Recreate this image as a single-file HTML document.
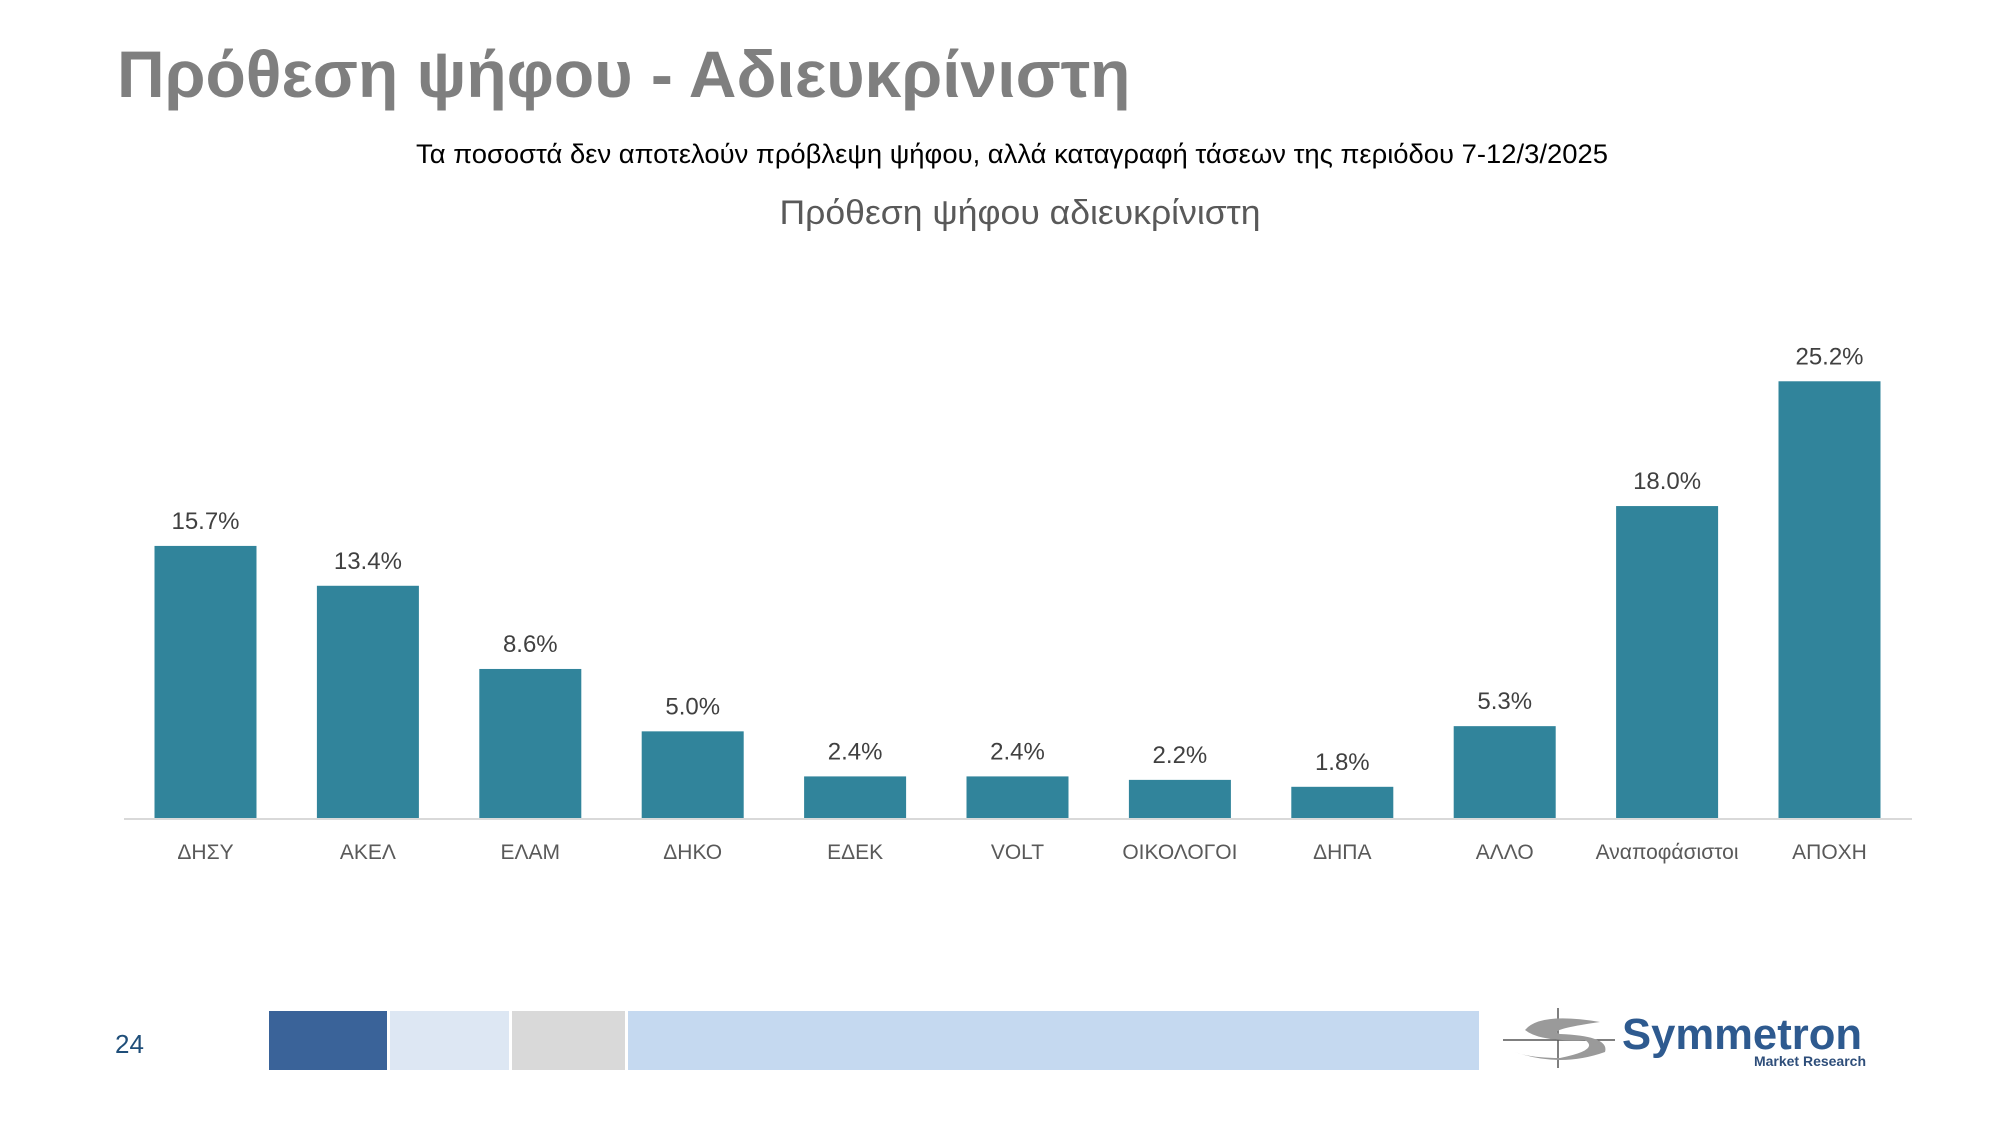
<!DOCTYPE html>
<html><head><meta charset="utf-8">
<style>
body{margin:0;background:#fff;}
svg{display:block;font-family:"Liberation Sans","DejaVu Sans",sans-serif;}
</style></head>
<body>
<svg width="2000" height="1125" viewBox="0 0 2000 1125" xmlns="http://www.w3.org/2000/svg">
<rect width="2000" height="1125" fill="#fff"/>
<text x="117" y="97" font-size="66" font-weight="bold" fill="#7f7f7f">Πρόθεση ψήφου - Αδιευκρίνιστη</text>
<text x="1012" y="163" font-size="27" text-anchor="middle" fill="#000" textLength="1192" lengthAdjust="spacingAndGlyphs">Τα ποσοστά δεν αποτελούν πρόβλεψη ψήφου, αλλά καταγραφή τάσεων της περιόδου 7-12/3/2025</text>
<text x="1020" y="224" font-size="34" text-anchor="middle" fill="#595959" textLength="481" lengthAdjust="spacingAndGlyphs">Πρόθεση ψήφου αδιευκρίνιστη</text>
<g id="chart"></g>
<line x1="124" y1="819" x2="1912" y2="819" stroke="#d9d9d9" stroke-width="2"/>
<text x="115" y="1053" font-size="26" fill="#1f4e79">24</text>
<rect x="269" y="1011" width="118" height="59" fill="#3a6399"/>
<rect x="390" y="1011" width="119" height="59" fill="#dde7f3"/>
<rect x="512" y="1011" width="113" height="59" fill="#d9d9d9"/>
<rect x="628" y="1011" width="851" height="59" fill="#c5d9f0"/>
<g>
<line x1="1503" y1="1040" x2="1615" y2="1040" stroke="#555" stroke-width="1.5"/>
<line x1="1558" y1="1008" x2="1558" y2="1068" stroke="#555" stroke-width="1.5"/>
<path d="M1600 1022 Q1540 1012 1525 1030 Q1540 1042 1585 1040 Q1600 1050 1560 1058 Q1530 1058 1515 1052 Q1560 1068 1605 1052 Q1610 1036 1560 1034 Q1545 1030 1600 1022Z" fill="#9a9a9a"/>
<text x="1622" y="1049" font-size="44" font-weight="bold" fill="#2e5a8f" textLength="240" lengthAdjust="spacingAndGlyphs">Symmetron</text>
<text x="1866" y="1066" font-size="14" font-weight="bold" fill="#2e4e7a" text-anchor="end">Market Research</text>
</g>
</svg>
<script>
const categories=["ΔΗΣΥ","ΑΚΕΛ","ΕΛΑΜ","ΔΗΚΟ","ΕΔΕΚ","VOLT","ΟΙΚΟΛΟΓΟΙ","ΔΗΠΑ","ΑΛΛΟ","Αναποφάσιστοι","ΑΠΟΧΗ"];
const values=[15.7,13.4,8.6,5.0,2.4,2.4,2.2,1.8,5.3,18.0,25.2];
const labels=["15.7%","13.4%","8.6%","5.0%","2.4%","2.4%","2.2%","1.8%","5.3%","18.0%","25.2%"];
const NS="http://www.w3.org/2000/svg";
const g=document.getElementById('chart');
const x0=205.5,step=162.4,bw=102,base=818,k=17.33;
function xs(i){return x0+i*step;}
function ys(v){return base-v*k;}
categories.forEach((c,i)=>{
  const cx=xs(i),y=ys(values[i]);
  const r=document.createElementNS(NS,'rect');
  r.setAttribute('x',cx-bw/2);r.setAttribute('y',y);r.setAttribute('width',bw);r.setAttribute('height',base-y);r.setAttribute('fill','#31849b');
  
  
  g.appendChild(r);
  const t=document.createElementNS(NS,'text');
  t.setAttribute('x',cx);t.setAttribute('y',y-17);t.setAttribute('text-anchor','middle');t.setAttribute('font-size','24');t.setAttribute('fill','#404040');
  t.textContent=labels[i];
  
  
  g.appendChild(t);
  const l=document.createElementNS(NS,'text');
  l.setAttribute('x',cx);l.setAttribute('y',859);l.setAttribute('text-anchor','middle');l.setAttribute('font-size','21');l.setAttribute('fill','#595959');
  l.textContent=c;
  
  
  g.appendChild(l);
});
</script>
</body></html>
